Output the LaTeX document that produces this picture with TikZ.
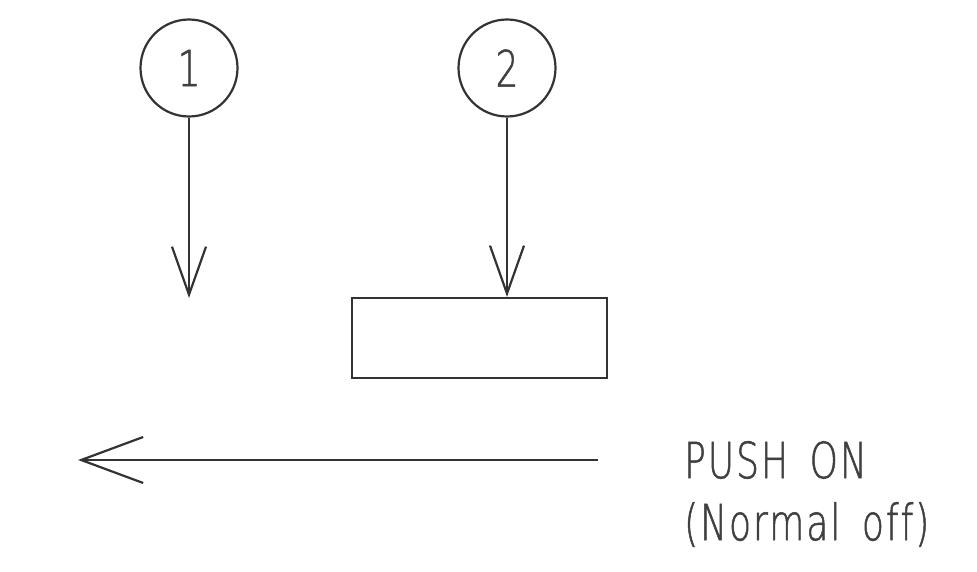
\documentclass[tikz,border=0pt]{standalone}
\usepackage{fontspec}
\usetikzlibrary{arrows.meta}
\newfontfamily\isofont[FakeStretch=0.72, FakeBold=1, LetterSpace=4, WordSpace=1.6, Ligatures=NoCommon]{DejaVu Sans ExtraLight}

\begin{document}
\begin{tikzpicture}[
    x=1pt, y=-1pt,
    line width=2.2pt, draw=black!80,
    bubble/.style={circle, draw, minimum size=97pt, inner sep=0pt, text=black!75, font=\isofont\fontsize{50}{60}\selectfont},
    plate/.style={draw, minimum width=255pt, minimum height=80pt, inner sep=0pt},
    caption/.style={align=left, inner sep=0pt, text=black!75, font=\isofont\fontsize{50}{62}\selectfont},
    pin/.style={-{Straight Barb[length=48pt,width=34pt]}},
    push/.style={-{Straight Barb[length=62pt,width=46pt]}}
]
    \useasboundingbox (0,0) rectangle (977,572);
    % Nodes
    \node[bubble] (1) at (189,68) {1};
    \node[bubble] (2) at (507,68) {2};
    \node[plate] (box) at (479.5,338) {};
    \coordinate (tip1) at (189,298);
    \coordinate (start) at (598,460);
    \coordinate (end) at (78,460);
    \node[caption, anchor=north west] (text) at (683,440) {PUSH ON\\(Normal off)};

    % Edges
    \draw[pin] (1.south) -- (tip1);
    \draw[pin] (2.south) -- (2.south |- box.north);
    \draw[push] (start) -- (end);
\end{tikzpicture}
\end{document}
